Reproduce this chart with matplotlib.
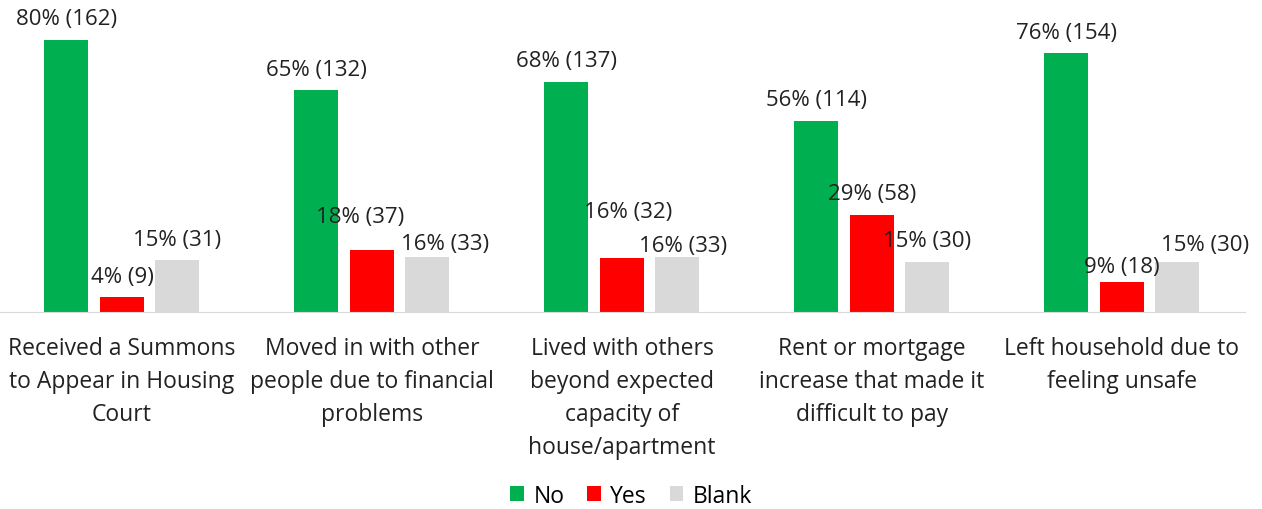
import matplotlib
matplotlib.use("Agg")
import matplotlib.pyplot as plt
import numpy as np

plt.rcParams['font.family'] = ['Open Sans', 'DejaVu Sans']

categories = [
    "Received a Summons\nto Appear in Housing\nCourt",
    "Moved in with other\npeople due to financial\nproblems",
    "Lived with others\nbeyond expected\ncapacity of\nhouse/apartment",
    "Rent or mortgage\nincrease that made it\ndifficult to pay",
    "Left household due to\nfeeling unsafe",
]
no_counts = [162, 132, 137, 114, 154]
yes_counts = [9, 37, 32, 58, 18]
blank_counts = [31, 33, 33, 30, 30]
no_pct = [80, 65, 68, 56, 76]
yes_pct = [4, 18, 16, 29, 9]
blank_pct = [15, 16, 16, 15, 15]

# manual label nudges (pixels) so labels don't collide, as in the original
no_shift = [(0, 0)] * 5
yes_shift = [(0, 0), (-12, 12), (6, 26), (0, 0), (0, -6)]
blank_shift = [(0, 0), (18, -8), (6, -10), (0, 0), (28, -4)]

GREEN = "#00B050"
RED = "#FF0000"
GRAY = "#D9D9D9"
PT = 72 / 100  # pixel -> point

fig = plt.figure(figsize=(12.62, 5.10), dpi=100)
ax = fig.add_axes([0.0, 0.386, 0.9865, 0.614])

x = np.arange(len(categories))
w = 0.176
step = 0.222
series = [(no_counts, no_pct, no_shift, GREEN, "No"),
          (yes_counts, yes_pct, yes_shift, RED, "Yes"),
          (blank_counts, blank_pct, blank_shift, GRAY, "Blank")]
for i, (vals, pcts, shifts, col, name) in enumerate(series):
    pos = x + (i - 1) * step
    ax.bar(pos, vals, width=w, color=col, label=name)
    for p, v, pc, (dx, dy) in zip(pos, vals, pcts, shifts):
        ax.annotate(f"{pc}% ({v})", (p, v), xytext=(dx * PT, (21 + dy) * PT),
                    textcoords="offset points", ha="center", va="center",
                    fontsize=16, color="#222222")

ax.set_xlim(-0.488, 4.492)
ax.set_ylim(0, 186.4)
for s in ["top", "right", "left"]:
    ax.spines[s].set_visible(False)
ax.spines["bottom"].set_color(GRAY)
ax.set_yticks([])
ax.set_xticks(x)
ax.set_xticklabels(categories, fontsize=16.5, color="#222222", linespacing=1.5)
ax.tick_params(axis="x", length=0, pad=17)

ax.legend(loc="lower center", bbox_to_anchor=(0.507, -0.69), ncol=3, frameon=False,
          fontsize=16.5, handlelength=0.6, handleheight=0.6, handletextpad=0.4,
          columnspacing=1.0)

fig.savefig("out.png", dpi=100, facecolor="white")
